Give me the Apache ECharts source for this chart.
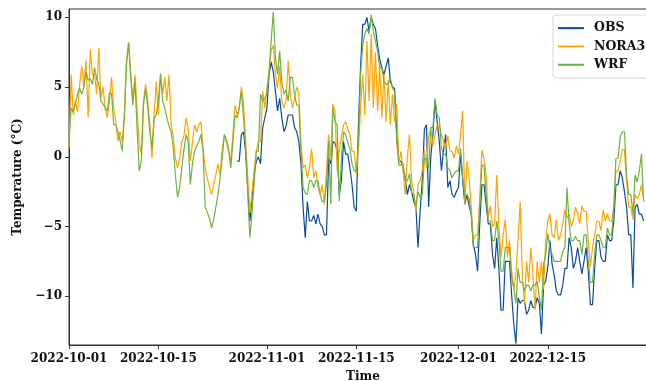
<!DOCTYPE html>
<html>
<head>
<meta charset="utf-8">
<script src="https://cdn.jsdelivr.net/npm/echarts@6/dist/echarts.min.js"></script>
<style>
  html, body { margin: 0; padding: 0; background: #fff; }
  #chart { width: 646px; height: 381px; }
</style>
</head>
<body>
<div id="chart"></div>
<script>
// samples every 8 hours from 2022-10-01 00:00
const startDate = [2022, 9, 1];
const stepHours = 8;
// OBS starts later than the model series (index into the 8-hourly grid)
const obsOffset = 79;

const xTickLabels = ['2022-10-01', '2022-10-15', '2022-11-01', '2022-11-15', '2022-12-01', '2022-12-15'];
const yTicks = [-10, -5, 0, 5, 10];

const obsValues = [
  -0.3, -0.3,
  1.6, 1.8, 0.4,   -2.2, -4.6, -3.0,   -1.3, -0.3, 0.0,
  -0.5, 2.1, 2.8,   3.5, 5.9, 6.8,   6.1, 4.7, 3.3,   4.2, 2.8, 1.8,
  2.2, 3.0, 3.0,   3.0, 2.1, 1.8,   1.1, -0.5, -3.6,   -5.8, -3.2, -4.6,
  -4.6, -4.2, -4.8,   -4.1, -4.8, -5.0,   -5.6, -5.6, -0.1,   -0.5, 1.1, 1.0,
  0.4, -2.7, -1.7,   1.1, 0.2, 0.2,   -0.8, -2.0, -3.6,   -3.9, 2.3, 6.4,
  9.5, 9.5, 10.0,   9.0, 10.0, 9.5,   9.2, 8.0, 7.0,   6.4, 5.9, 6.5,
  7.1, 5.4, 5.0,   4.9, 1.6, -0.3,   -0.3, -0.8, -1.5,   -2.7, -2.0, -2.5,
  -3.2, -3.6, -6.5,   -3.9, -1.7, 2.0,   2.3, -3.6, 0.0,   1.6, 4.0, 2.5,
  1.1, -1.0, 0.5,   1.6, -2.2, -1.7,   -2.7, -2.9, -2.5,   -2.2, 0.2, -1.7,
  -3.4, -2.7, -3.5,   -4.1, -6.3, -7.0,   -8.2, -4.8, -2.0,   -2.0, -3.4, -4.8,
  -4.8, -7.0, -8.0,   -5.8, -8.0, -11.0,   -11.0, -7.5, -7.5,   -7.5, -9.9, -12.0,
  -13.4, -10.1, -10.5,   -10.3, -10.3, -11.3,   -11.0, -10.3, -10.8,   -10.8, -10.1, -10.5,
  -12.7, -9.2, -8.9,   -7.9, -6.0, -7.7,   -8.5, -9.6, -9.9,   -9.9, -9.2, -8.0,
  -8.0, -5.8, -6.5,   -8.0, -7.5, -6.5,   -7.5, -8.4, -7.5,   -6.5, -8.2, -10.6,
  -10.6, -8.0, -6.0,   -6.0, -7.2, -7.5,   -7.5, -5.6, -6.0,   -6.0, -4.6, -2.0,
  -2.0, -1.0, -1.5,   -2.5, -3.6, -5.6,   -5.6, -9.4, -3.6,   -3.4, -4.1, -4.1,
  -4.6
];

const nora3Values = [
  0.6, 5.9, 3.0,   4.0, 3.2, 5.2,   6.5, 5.0, 6.9,   2.8, 7.7, 5.9,   5.9, 4.5, 7.8,
  4.2, 5.0, 3.5,   2.8, 4.0, 5.7,   3.5, 2.5, 1.1,   1.8, 1.1, 3.0,   6.8, 8.2, 6.0,
  4.0, 5.9, 3.5,   1.0, 0.2, 4.0,   5.2, 4.0, 2.4,   -0.1, 3.0, 5.4,   3.0, 6.0, 4.5,
  5.7, 4.0, 5.9,   2.3, 1.5, -0.1,   -0.8, -0.1, 1.1,   1.5, 2.8, 2.0,   -0.3, 1.0, 2.3,
  1.8, 2.3, 2.5,   0.6, -0.8, -1.5,   -2.2, -2.7, -2.0,   -1.3, -0.5, -1.3,   0.6, 1.6, 1.0,
  0.4, -0.3, 1.5,   3.7, 3.0, 3.5,   5.0, 3.8, 1.2,   -1.5, -4.0, -2.5,   -1.0, 0.4, 1.1,
  1.1, 4.7, 3.5,   4.9, 6.2, 7.6,   8.0, 5.9, 4.9,   6.5, 4.0, 3.5,   4.0, 6.9, 4.5,
  3.5, 4.2, 5.0,   4.5, 1.0, -0.8,   -0.6, -1.5, -0.8,   0.6, -1.5, -1.0,   -2.2, -2.7, -2.0,
  -3.4, -1.0, 1.6,   0.0, 3.8, 3.3,   -1.0, 0.5, 1.5,   2.3, 2.5, 2.0,   1.6, 0.4, 0.4,
  -1.3, 0.5, 3.5,   5.9, 3.0, 8.3,   4.0, 8.8, 3.5,   7.5, 3.3, 6.5,   2.8, 6.0, 2.5,
  5.5, 2.3, 4.5,   2.5, 3.8, -0.5,   0.4, -1.0, -2.7,   0.0, 1.6, -1.7,   -2.5, -3.9, -2.0,
  -1.7, -1.0, 0.5,   -0.8, 1.5, 2.0,   0.8, 1.6, 2.3,   2.3, 1.6, 1.1,   0.6, 1.5, 0.4,
  0.4, -0.1, 0.8,   0.2, 1.5, 3.3,   -3.4, -0.3, -1.5,   -3.6, -6.0, -5.6,   -5.6, -3.0, 0.5,
  -0.1, -1.3, -4.4,   -3.5, -5.0, -4.8,   -1.3, -5.0, -7.2,   -5.6, -4.5, -7.2,   -6.0, -8.2, -9.5,
  -8.4, -6.0, -3.2,   -8.4, -10.5, -7.5,   -9.0, -6.5, -8.4,   -11.0, -7.5, -9.0,   -7.5, -9.5, -6.0,
  -4.6, -4.1, -5.6,   -5.8, -4.5, -6.0,   -5.6, -4.8, -3.8,   -4.4, -4.1, -5.0,   -4.6, -3.6, -4.1,
  -4.8, -3.5, -3.9,   -3.9, -6.0, -7.9,   -6.5, -5.6, -4.6,   -4.6, -5.3, -3.8,   -4.6, -4.1, -4.6,
  -4.6, -3.6, -1.0,   -1.0, -0.3, 0.5,   0.5, -1.7, -3.6,   -3.6, -4.5, -2.7,   -3.0, -2.7, -2.0,
  -3.0
];

const wrfValues = [
  1.0, 3.5, 3.2,   3.8, 4.5, 4.9,   4.5, 5.0, 6.1,   5.5, 5.6, 5.2,   6.4, 5.6, 5.2,
  4.0, 3.8, 3.5,   3.3, 4.6, 4.5,   2.3, 2.3, 1.8,   1.2, 0.4, 2.8,   6.6, 8.2, 5.7,
  3.7, 5.4, 2.0,   -1.0, -0.3, 3.7,   4.9, 3.5, 1.8,   0.6, 2.8, 3.0,   4.0, 5.9, 4.0,
  3.5, 2.8, 2.2,   1.8, 0.6, -1.3,   -2.9, -2.2, -0.8,   0.5, 1.6, 1.1,   -2.0, -0.5, 0.4,
  0.8, 1.1, 1.6,   0.4, -3.6, -4.0,   -4.4, -5.1, -4.5,   -3.6, -2.7, -1.5,   -0.1, 1.6, 1.2,
  0.6, -0.8, 1.0,   3.0, 2.8, 3.5,   4.7, 2.8, 0.6,   -2.7, -5.8, -4.0,   -1.8, 0.4, 0.4,
  4.5, 4.0, 4.2,   4.5, 6.0, 8.3,   10.4, 7.1, 5.9,   7.6, 5.4, 4.5,   4.8, 4.0, 5.7,
  5.7, 4.4, 3.7,   3.7, 0.4, -2.2,   -2.6, -2.7, -1.7,   -1.7, -2.2, -1.7,   -1.7, -2.7, -3.2,
  -3.2, -2.0, 1.1,   -3.4, 3.5, 2.5,   2.3, -3.2, -0.1,   1.8, 1.6, 1.0,   0.6, -0.5, -1.0,
  -1.0, 1.1, 5.9,   8.0, 8.8, 9.2,   8.8, 10.2, 9.0,   8.3, 7.6, 6.4,   6.4, 5.4, 5.2,
  5.2, 5.7, 4.9,   4.7, 1.1, -0.6,   -0.6, -0.5, -1.7,   -1.7, -1.2, -2.6,   -2.7, -3.6, -2.5,
  -2.9, -2.7, -0.1,   -0.1, -0.8, 2.1,   2.1, 4.2, 3.0,   2.8, 0.6, 0.2,   0.2, -0.8, -1.0,
  -1.5, -1.2, -1.0,   -1.0, 0.6, -1.5,   -2.9, -2.7, -3.0,   -4.1, -6.5, -6.5,   -6.5, -3.6, -0.6,
  -0.6, -2.7, -4.6,   -4.6, -6.0, -6.0,   -4.6, -6.0, -8.2,   -8.2, -6.5, -6.5,   -6.5, -8.7, -9.4,
  -10.5, -8.0, -9.0,   -9.0, -9.6, -9.2,   -9.2, -9.6, -9.2,   -9.2, -8.9, -10.1,   -11.0, -7.7, -7.0,
  -5.5, -6.6, -7.0,   -7.5, -7.5, -7.5,   -7.5, -6.8, -6.5,   -2.2, -4.8, -6.0,   -6.0, -5.7, -6.0,
  -6.0, -7.0, -5.6,   -5.6, -7.5, -9.0,   -9.0, -7.0, -5.6,   -5.6, -6.0, -6.5,   -6.5, -5.1, -5.6,
  -5.6, -3.6, -0.1,   -0.1, 1.4, 1.8,   1.8, -1.3, -2.7,   -2.7, -4.1, -1.3,   -1.8, -1.0, 0.2,
  -3.2
];

const startTime = new Date(startDate[0], startDate[1], startDate[2]).getTime();
const stepMs = stepHours * 3600 * 1000;
const dayMs = 24 * 3600 * 1000;

function toPairs(values, offset) {
  return values.map((v, i) => [startTime + (i + offset) * stepMs, v]);
}

function parseDay(s) {
  const p = s.split('-').map(Number);
  return new Date(p[0], p[1] - 1, p[2]).getTime();
}

function fmtDay(t) {
  const d = new Date(t);
  const mm = String(d.getMonth() + 1).padStart(2, '0');
  const dd = String(d.getDate()).padStart(2, '0');
  return d.getFullYear() + '-' + mm + '-' + dd;
}

const xTicks = xTickLabels.map(parseDay);
const fontFamily = "'DejaVu Serif', serif";
const axisColor = '#333';

const option = {
  animation: false,
  backgroundColor: '#fff',
  textStyle: { fontFamily: fontFamily },
  grid: {
    left: 69,
    top: 9,
    bottom: 36,
    right: -11,
    outerBoundsMode: 'none',
    containLabel: false,
    show: true,
    borderColor: axisColor,
    borderWidth: 1,
    backgroundColor: 'transparent'
  },
  legend: {
    orient: 'vertical',
    left: 553,
    top: 15,
    padding: [6, 14, 6, 5],
    icon: 'rect',
    itemWidth: 26,
    itemHeight: 2,
    itemGap: 4,
    backgroundColor: '#fff',
    borderColor: '#d6d6d6',
    borderWidth: 1,
    borderRadius: 3,
    textStyle: {
      fontFamily: fontFamily,
      fontWeight: 'bold',
      fontSize: 12.5,
      lineHeight: 14.3,
      color: '#111',
      padding: [0, 0, 0, 5]
    },
    data: ['OBS', 'NORA3', 'WRF']
  },
  xAxis: {
    type: 'value',
    min: startTime,
    max: startTime + 92.1 * dayMs,
    name: 'Time',
    nameLocation: 'middle',
    nameGap: 26,
    nameTextStyle: { fontFamily: fontFamily, fontWeight: 'bold', fontSize: 12, color: '#111' },
    axisLine: { show: true, onZero: false, lineStyle: { color: axisColor, width: 1 } },
    axisTick: { show: true, length: 4, lineStyle: { color: axisColor }, customValues: xTicks },
    axisLabel: {
      customValues: xTicks,
      formatter: function (v) { return fmtDay(v); },
      fontFamily: fontFamily,
      fontWeight: 'bold',
      fontSize: 12,
      color: '#111',
      margin: 8
    },
    splitLine: { show: false }
  },
  yAxis: {
    type: 'value',
    min: -13.49,
    max: 10.6,
    name: 'Temperature (°C)',
    nameLocation: 'middle',
    nameGap: 40,
    nameTextStyle: { fontFamily: fontFamily, fontWeight: 'bold', fontSize: 12, color: '#111' },
    axisLine: { show: true, onZero: false, lineStyle: { color: axisColor, width: 1 } },
    axisTick: { show: true, length: 4, lineStyle: { color: axisColor }, customValues: yTicks },
    axisLabel: {
      customValues: yTicks,
      formatter: function (v) { return String(v).replace('-', '\u2212'); },
      fontFamily: fontFamily,
      fontWeight: 'bold',
      fontSize: 12,
      color: '#111',
      margin: 7
    },
    splitLine: { show: false }
  },
  series: [
    {
      name: 'OBS',
      type: 'line',
      data: toPairs(obsValues, obsOffset),
      showSymbol: false,
      symbol: 'none',
      color: '#0b4a9c',
      lineStyle: { width: 1.2, color: '#0b4a9c' }
    },
    {
      name: 'NORA3',
      type: 'line',
      data: toPairs(nora3Values, 0),
      showSymbol: false,
      symbol: 'none',
      color: '#ffa500',
      lineStyle: { width: 1.2, color: '#ffa500' }
    },
    {
      name: 'WRF',
      type: 'line',
      data: toPairs(wrfValues, 0),
      showSymbol: false,
      symbol: 'none',
      color: '#6db33f',
      lineStyle: { width: 1.2, color: '#6db33f' }
    }
  ]
};

const chart = echarts.init(document.getElementById('chart'));
chart.setOption(option);
</script>
</body>
</html>
